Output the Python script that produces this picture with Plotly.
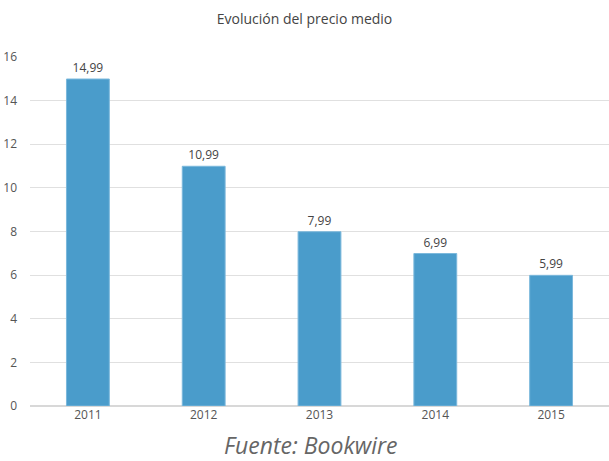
import plotly.graph_objects as go

years = ["2011", "2012", "2013", "2014", "2015"]
prices = [14.99, 10.99, 7.99, 6.99, 5.99]
y_ticks = [0, 2, 4, 6, 8, 10, 12, 14, 16]

W, H = 609, 461
ml, mr, mt, mb = 30, 0, 57, 55

fig = go.Figure(go.Bar(
    x=years, y=prices,
    marker=dict(color="#4a9ccb", line=dict(color="#7bb8dc", width=1)),
    width=0.37,
    text=prices, texttemplate="%{y:.2f}", textposition="outside",
    textfont=dict(size=12, color="#444444"),
    cliponaxis=False,
    hoverinfo="skip",
))

fig.update_layout(
    width=W, height=H,
    margin=dict(l=ml, r=mr, t=mt, b=mb),
    plot_bgcolor="white", paper_bgcolor="white",
    separators=",.",
    font=dict(family="Open Sans, Noto Sans, sans-serif", color="#555555", size=12),
    showlegend=False,
    title=dict(text="Evolución del precio medio", x=0.5, xanchor="center",
               y=1 - 19 / H, yanchor="middle",
               font=dict(size=14, color="#444444")),
    xaxis=dict(showgrid=False, ticks="", tickfont=dict(size=12, color="#555555"), showline=False),
    yaxis=dict(range=[0, 16], tickvals=y_ticks, showgrid=True, gridcolor="#e0e0e0",
               gridwidth=1, zeroline=True, zerolinecolor="#d8d8d8", zerolinewidth=2,
               ticks="", ticklabelstandoff=12, tickfont=dict(size=12, color="#555555")),
    annotations=[dict(text="<i>Fuente: Bookwire</i>", xref="paper", yref="paper",
                      x=(310 - ml) / (W - ml - mr), y=-(445 - (H - mb)) / (H - mt - mb),
                      xanchor="center", yanchor="middle", showarrow=False,
                      font=dict(size=23, color="#666666"))],
)

fig.write_html("out.html", config={"displayModeBar": False},
               post_script="document.body.style.margin='0';document.body.style.overflow='hidden';")
